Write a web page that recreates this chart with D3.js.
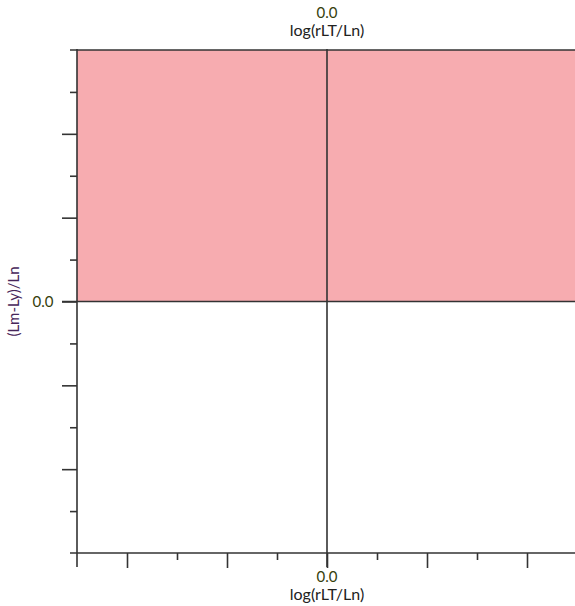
<!DOCTYPE html>
<html>
<head>
<meta charset="utf-8">
<script src="https://cdn.jsdelivr.net/npm/d3@7"></script>
<style>
  body { margin: 0; background: #fff; }
  text { font-family: Lato, "Open Sans", sans-serif; }
</style>
</head>
<body>
<div id="chart"></div>
<script>
// chart values
var xDomain = [-5, 5];
var yDomain = [-6, 6];
var xMajor = [-4, -2, 0, 2, 4];
var xMinor = [-3, -1, 1, 3];
var yMajor = [-4, -2, 0, 2, 4];
var yMinor = [-5, -3, -1, 1, 3, 5];
var zones = [{ x0: -5, x1: 5, y0: 0, y1: 6, color: "#f7acb0" }];
var xTitle = "log(rLT/Ln)";
var yTitle = "(Lm-Ly)/Ln";
var originLabel = "0.0";

var W = 575, H = 606;
var plotLeft = 77, plotTop = 50, plotRight = 577, plotBottom = 553;

var svg = d3.select("#chart").append("svg")
    .attr("width", W).attr("height", H);

var x = d3.scaleLinear().domain(xDomain).range([plotLeft, plotRight]);
var y = d3.scaleLinear().domain(yDomain).range([plotBottom, plotTop]);

var lineColor = "#333";

svg.selectAll(".zone")
    .data(zones)
    .enter().append("rect")
    .attr("class", "zone")
    .attr("x", function(d) { return x(d.x0); })
    .attr("y", function(d) { return y(d.y1); })
    .attr("width", function(d) { return x(d.x1) - x(d.x0); })
    .attr("height", function(d) { return y(d.y0) - y(d.y1); })
    .attr("fill", function(d) { return d.color; });

function styleAxis(g) {
    g.select(".domain").remove();
    g.selectAll(".tick line").attr("stroke", lineColor).attr("stroke-width", 1.6);
}

// y ticks
svg.append("g").attr("transform", "translate(" + plotLeft + ",0)")
    .call(d3.axisLeft(y).tickValues(yMajor).tickSize(15).tickFormat(""))
    .call(styleAxis);
svg.append("g").attr("transform", "translate(" + plotLeft + ",0)")
    .call(d3.axisLeft(y).tickValues(yMinor).tickSize(7).tickFormat(""))
    .call(styleAxis);

// x ticks
svg.append("g").attr("transform", "translate(0," + plotBottom + ")")
    .call(d3.axisBottom(x).tickValues(xMajor).tickSize(15).tickFormat(""))
    .call(styleAxis);
svg.append("g").attr("transform", "translate(0," + plotBottom + ")")
    .call(d3.axisBottom(x).tickValues(xMinor).tickSize(7).tickFormat(""))
    .call(styleAxis);

// frame lines
var frame = svg.append("g").attr("stroke", lineColor).attr("stroke-width", 1.6);
frame.append("line").attr("x1", plotLeft - 7).attr("x2", W).attr("y1", plotTop).attr("y2", plotTop);
frame.append("line").attr("x1", plotLeft - 7).attr("x2", W).attr("y1", plotBottom).attr("y2", plotBottom);
frame.append("line").attr("x1", plotLeft).attr("x2", plotLeft).attr("y1", plotTop - 1).attr("y2", plotBottom + 14);

// cross at origin
frame.append("line").attr("x1", x(0)).attr("x2", x(0)).attr("y1", plotTop - 1).attr("y2", plotBottom + 14);
frame.append("line").attr("x1", plotLeft - 15).attr("x2", W).attr("y1", y(0)).attr("y2", y(0));

// labels
var numColor = "#35400c", titleColor = "#222", yColor = "#47265a";

svg.append("text").attr("x", x(0)).attr("y", 18).attr("text-anchor", "middle")
    .attr("font-size", 15).attr("fill", numColor).text(originLabel);
svg.append("text").attr("x", x(0)).attr("y", 36).attr("text-anchor", "middle")
    .attr("font-size", 16).attr("fill", titleColor).text(xTitle);

svg.append("text").attr("x", x(0)).attr("y", 582).attr("text-anchor", "middle")
    .attr("font-size", 15).attr("fill", numColor).text(originLabel);
svg.append("text").attr("x", x(0)).attr("y", 600).attr("text-anchor", "middle")
    .attr("font-size", 16).attr("fill", titleColor).text(xTitle);

svg.append("text").attr("x", 43).attr("y", y(0) + 5).attr("text-anchor", "middle")
    .attr("font-size", 15).attr("fill", numColor).text(originLabel);
svg.append("text")
    .attr("transform", "translate(19," + y(0) + ") rotate(-90)")
    .attr("text-anchor", "middle")
    .attr("font-size", 15).attr("fill", yColor).text(yTitle);
</script>
</body>
</html>
